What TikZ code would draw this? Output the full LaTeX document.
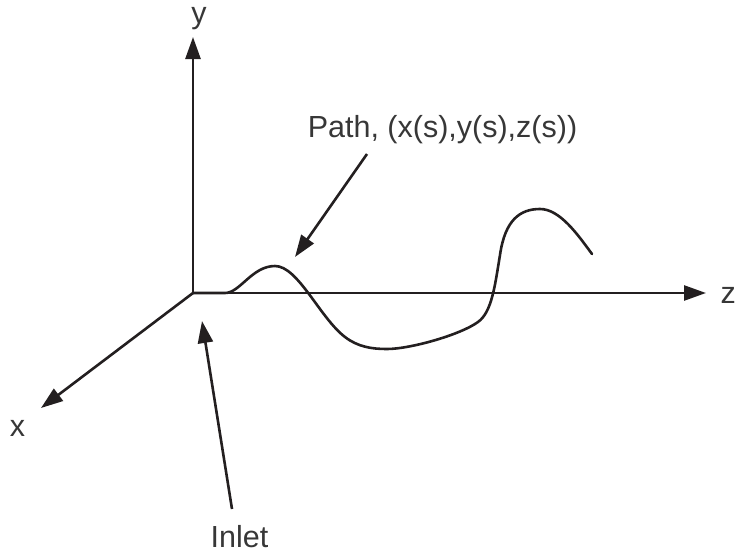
\documentclass[tikz,border=0pt]{standalone}
\usepackage{fontspec}
\setmainfont{Liberation Sans}
\usetikzlibrary{arrows.meta}
\definecolor{linec}{RGB}{35,31,32}
\definecolor{textc}{RGB}{55,55,55}
\tikzset{
  axis/.style={draw=linec, line width=2.6pt, -{Triangle[length=22pt,width=15pt]}},
  curve/.style={draw=linec, line width=2.6pt, line cap=round},
  lbl/.style={text=textc, font=\fontsize{30.5}{36}\selectfont, inner sep=0pt, anchor=base}
}
\begin{document}
\begin{tikzpicture}[x=1pt,y=-1pt]
\useasboundingbox (0,0) rectangle (737,552);
\coordinate (O) at (193,293);
\coordinate (ytip) at (193,37);
\coordinate (ztip) at (706,293);
\coordinate (xtip) at (41,408);
\coordinate (pathstart) at (367,154);
\coordinate (pathtip) at (295,257);
\coordinate (inletstart) at (232,509);
\coordinate (inlettip) at (202,321);
% labels
\node[lbl] (ylab) at (199,23) {y};
\node[lbl, anchor=base east] (zlab) at (736,303) {z};
\node[lbl] (xlab) at (17.5,436) {x};
\node[lbl] (pathlab) at (442.5,137) {Path, (x(s),y(s),z(s))};
\node[lbl] (inletlab) at (239.5,547) {Inlet};
% axes
\draw[axis] (O) -- (ytip);
\draw[axis] (O) -- (ztip);
\draw[axis] (O) -- (xtip);
% pointer arrows
\draw[axis] (pathstart) -- (pathtip);
\draw[axis] (inletstart) -- (inlettip);
% path curve
\draw[curve] (O) -- (225,293)
  .. controls (240,293) and (252,266) .. (275,266)
  .. controls (298,266) and (320,318) .. (345,337)
  .. controls (358,347) and (372,349) .. (387,349)
  .. controls (410,349) and (460,335) .. (478,322)
  .. controls (492,312) and (495,285) .. (500,255)
  .. controls (505,220) and (520,209) .. (540,209)
  .. controls (560,209) and (578,235) .. (592,254);
\end{tikzpicture}
\end{document}
